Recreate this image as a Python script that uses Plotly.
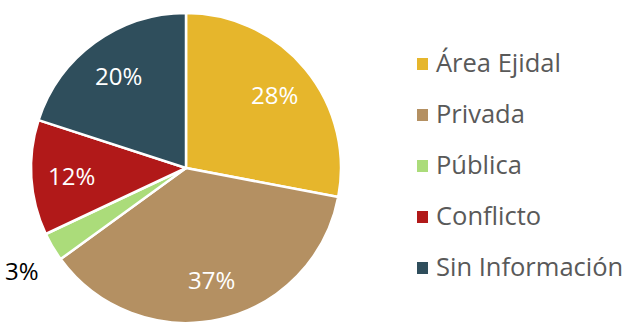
import math
import plotly.graph_objects as go

labels = ["Área Ejidal", "Privada", "Pública", "Conflicto", "Sin Información"]
values = [28, 37, 3, 12, 20]
colors = ["#E6B62C", "#B49062", "#ABDC7A", "#B11919", "#2F4E5C"]
label_outside = [False, False, True, False, False]

W, H = 629, 323
FONT = "Open Sans, Liberation Sans, Arial, sans-serif"

# Pie geometry in pixels
CX, CY, R = 186, 168, 155

fig = go.Figure()
fig.add_trace(go.Pie(
    labels=labels,
    values=values,
    sort=False,
    direction="clockwise",
    rotation=0,
    marker=dict(colors=colors, line=dict(color="white", width=2.5)),
    textinfo="none",
    showlegend=False,
    hoverinfo="label+percent",
    domain=dict(x=[(CX - R) / W, (CX + R) / W], y=[1 - (CY + R) / H, 1 - (CY - R) / H]),
))

# Percentage labels placed at each slice's mid-angle
total = sum(values)
annotations = []
cum = 0
for v, out in zip(values, label_outside):
    mid = (cum + v / 2) / total * 2 * math.pi
    cum += v
    d = R * (1.23 if out else 0.74)
    px = CX + d * math.sin(mid)
    py = CY - d * math.cos(mid) + (5 if out else 0)
    annotations.append(dict(
        text=f"{round(v / total * 100)}%", xref="paper", yref="paper",
        x=px / W, y=1 - py / H, xanchor="center", yanchor="middle",
        showarrow=False,
        font=dict(family=FONT, size=24, color="black" if out else "white"),
    ))

# Legend drawn as coloured squares with labels
legend_top = 64
legend_step = 51
shapes = []
for i, (lab, col) in enumerate(zip(labels, colors)):
    yc = legend_top + i * legend_step
    shapes.append(dict(
        type="rect", xref="paper", yref="paper",
        x0=417 / W, x1=428 / W,
        y0=1 - (yc + 6) / H, y1=1 - (yc - 6) / H,
        fillcolor=col, line=dict(width=0),
    ))
    annotations.append(dict(
        text=lab, xref="paper", yref="paper",
        x=434 / W, y=1 - (yc - 2) / H, xanchor="left", yanchor="middle",
        showarrow=False, font=dict(family=FONT, size=25.5, color="#595959"),
    ))

fig.update_layout(
    width=W, height=H,
    margin=dict(l=0, r=0, t=0, b=0),
    paper_bgcolor="white",
    plot_bgcolor="white",
    shapes=shapes,
    annotations=annotations,
)

fig.write_html("out.html")
